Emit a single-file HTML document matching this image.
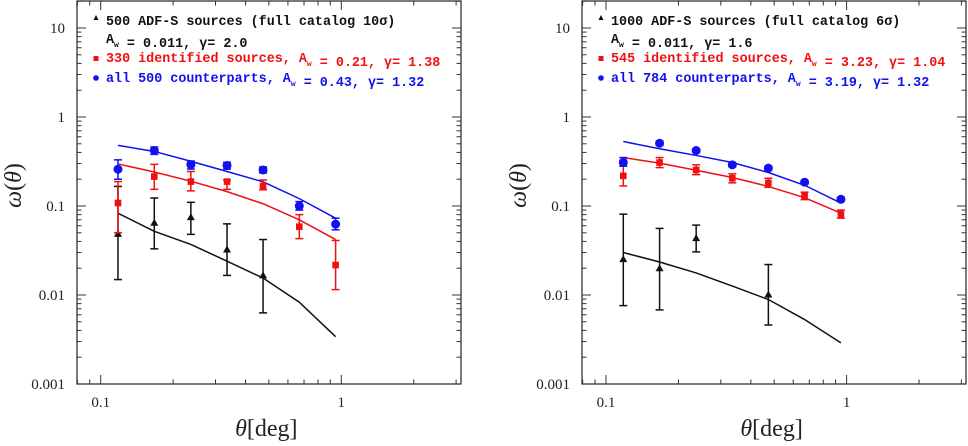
<!DOCTYPE html>
<html><head><meta charset="utf-8"><style>
html,body{margin:0;padding:0;background:#fff;}
svg text{font-family:"Liberation Serif",serif;}
.leg{font-family:"Liberation Mono",monospace;font-size:13.4px;font-weight:bold;}
</style></head><body>
<svg id="chart" width="968" height="441" viewBox="0 0 968 441" xmlns="http://www.w3.org/2000/svg"></svg>
<script>
// ---- data ----
const thetaPts = [0.118, 0.167, 0.237, 0.335, 0.473, 0.669, 0.947];
const xTickLabels = ["0.1", "1"];
const yTickLabels = ["0.001", "0.01", "0.1", "1", "10"];
// Left panel
const L_blue = [0.259, 0.42, 0.292, 0.285, 0.254, 0.100, 0.0625];
const L_blueLo = [0.20, 0.38, 0.26, 0.26, 0.235, 0.09, 0.054];
const L_blueHi = [0.33, 0.46, 0.32, 0.31, 0.275, 0.112, 0.073];
const L_blueFit = [0.48, 0.41, 0.318, 0.244, 0.187, 0.121, 0.073];
const L_red = [0.108, 0.214, 0.188, 0.188, 0.168, 0.0585, 0.0217];
const L_redLo = [0.05, 0.154, 0.148, 0.154, 0.152, 0.043, 0.0115];
const L_redHi = [0.188, 0.294, 0.244, 0.196, 0.196, 0.080, 0.041];
const L_redFit = [0.297, 0.241, 0.19, 0.145, 0.106, 0.070, 0.042];
const L_blackX = [0.118, 0.167, 0.237, 0.335, 0.473];
const L_black = [0.048, 0.064, 0.074, 0.032, 0.0164];
const L_blackLo = [0.0149, 0.033, 0.048, 0.0166, 0.0063];
const L_blackHi = [0.166, 0.123, 0.110, 0.063, 0.042];
const L_blackFit = [0.083, 0.052, 0.037, 0.024, 0.0155, 0.0083, 0.0034];
// Right panel
const R_blue = [0.31, 0.507, 0.42, 0.29, 0.266, 0.185, 0.119];
const R_blueLo = [0.28, 0.48, 0.40, 0.275, 0.255, 0.177, 0.113];
const R_blueHi = [0.35, 0.535, 0.44, 0.305, 0.28, 0.193, 0.125];
const R_blueFit = [0.53, 0.44, 0.37, 0.308, 0.238, 0.171, 0.108];
const R_red = [0.218, 0.308, 0.254, 0.205, 0.182, 0.130, 0.081];
const R_redLo = [0.168, 0.27, 0.225, 0.182, 0.162, 0.118, 0.073];
const R_redHi = [0.294, 0.35, 0.29, 0.23, 0.205, 0.143, 0.090];
const R_redFit = [0.35, 0.303, 0.252, 0.209, 0.166, 0.124, 0.083];
const R_blackX = [0.118, 0.167, 0.237, 0.473];
const R_black = [0.025, 0.0197, 0.043, 0.010];
const R_blackLo = [0.0076, 0.0068, 0.0305, 0.0046];
const R_blackHi = [0.081, 0.056, 0.061, 0.022];
const R_blackFit = [0.030, 0.0235, 0.0177, 0.0126, 0.0089, 0.0053, 0.0029];
const L_legend = [["500 ADF-S sources (full catalog 10σ)", "A_w = 0.011, γ= 2.0"], "330 identified sources, A_w = 0.21, γ= 1.38", "all 500 counterparts, A_w = 0.43, γ= 1.32"];
const R_legend = [["1000 ADF-S sources (full catalog 6σ)", "A_w = 0.011, γ= 1.6"], "545 identified sources, A_w = 3.23, γ= 1.04", "all 784 counterparts, A_w = 3.19, γ= 1.32"];

const NS = "http://www.w3.org/2000/svg";
const svg = document.getElementById("chart");
function mk(tag, attrs, parent, text) {
  const e = document.createElementNS(NS, tag);
  for (const k in attrs) e.setAttribute(k, attrs[k]);
  if (text !== undefined) e.textContent = text;
  parent.appendChild(e); return e;
}
const TOP = 1, BOT = 384, DEC = 89;
function yS(v) { return BOT - (Math.log10(v) + 3) * DEC; }

function panel(name, x0, x1, ox, leg, blue, blueLo, blueHi, blueFit, red, redLo, redHi, redFit, bx, black, blackLo, blackHi, blackFit) {
  const XD = 240.6;
  const xS = v => ox + (Math.log10(v) + 1) * XD;
  const g = mk("g", {}, svg);
  
  
  const fr = mk("rect", {x: x0, y: TOP, width: x1 - x0, height: BOT - TOP, fill: "none", stroke: "#333", "stroke-width": 1.3}, g);
  
  
  for (let d = -3; d <= 1; d++) {
    for (let m = 1; m <= 9; m++) {
      const v = m * Math.pow(10, d); const y = yS(v);
      if (y < TOP) continue;
      const len = m === 1 ? 9 : 4.5;
      mk("line", {x1: x0, x2: x0 + len, y1: y, y2: y, stroke: "#333", "stroke-width": 1}, g);
      mk("line", {x1: x1, x2: x1 - len, y1: y, y2: y, stroke: "#333", "stroke-width": 1}, g);
    }
    const t = mk("text", {x: x0 - 12, y: yS(Math.pow(10, d)) + 5, "text-anchor": "end", "font-size": 15, fill: "#222"}, g, yTickLabels[d + 3]);
    
    
  }
  for (let d = -2; d <= 0; d++) {
    for (let m = 1; m <= 9; m++) {
      const v = m * Math.pow(10, d); const x = xS(v);
      if (x < x0 || x > x1) continue;
      const len = m === 1 ? 9 : 4.5;
      mk("line", {x1: x, x2: x, y1: BOT, y2: BOT - len, stroke: "#333", "stroke-width": 1}, g);
      mk("line", {x1: x, x2: x, y1: TOP, y2: TOP + len, stroke: "#333", "stroke-width": 1}, g);
    }
  }
  xTickLabels.forEach((lab, i) => {
    const t = mk("text", {x: xS(Math.pow(10, i - 1)), y: 407, "text-anchor": "middle", "font-size": 15, fill: "#222"}, g, lab);
    
    
  });
  const xt = mk("text", {x: xS(1) - 75, y: 436, "text-anchor": "middle", "font-size": 24, fill: "#222"}, g);
  
  
  mk("tspan", {"font-style": "italic"}, xt, "θ"); mk("tspan", {}, xt, "[deg]");
  const yt = mk("text", {x: 0, y: 0, transform: `translate(${x0 - 56},${yS(0.17)}) rotate(-90)`, "text-anchor": "middle", "font-size": 24, fill: "#222"}, g);
  
  
  mk("tspan", {"font-style": "italic"}, yt, "ω"); mk("tspan", {}, yt, "(");
  mk("tspan", {"font-style": "italic"}, yt, "θ"); mk("tspan", {}, yt, ")");

  function fit(arr, col, nm) {
    const p = mk("polyline", {points: arr.map((v, i) => xS(thetaPts[i]) + "," + yS(v)).join(" "), fill: "none", stroke: col, "stroke-width": 1.5}, g);
    
    
  }
  function errs(xs, vals, lo, hi, col, nm, shape) {
    vals.forEach((v, i) => {
      const x = xS(xs[i]);
      const eg = mk("g", {}, g);
      
      
      mk("line", {x1: x, x2: x, y1: yS(lo[i]), y2: yS(hi[i]), stroke: col, "stroke-width": 1.5}, eg);
      mk("line", {x1: x - 4, x2: x + 4, y1: yS(lo[i]), y2: yS(lo[i]), stroke: col, "stroke-width": 1.5}, eg);
      mk("line", {x1: x - 4, x2: x + 4, y1: yS(hi[i]), y2: yS(hi[i]), stroke: col, "stroke-width": 1.5}, eg);
      const y = yS(v);
      if (shape === "c") mk("circle", {cx: x, cy: y, r: 4.5, fill: col}, eg);
      else if (shape === "s") mk("rect", {x: x - 3.3, y: y - 3.3, width: 6.6, height: 6.6, fill: col}, eg);
      else mk("polygon", {points: `${x},${y - 4.5} ${x - 4},${y + 2.5} ${x + 4},${y + 2.5}`, fill: col}, eg);
    });
  }
  fit(blackFit, "#111", "black-fit-line");
  fit(redFit, "#f01010", "red-fit-line");
  fit(blueFit, "#1010f0", "blue-fit-line");
  errs(bx, black, blackLo, blackHi, "#111", "black", "t");
  errs(thetaPts, red, redLo, redHi, "#f01010", "red", "s");
  errs(thetaPts, blue, blueLo, blueHi, "#1010f0", "blue", "c");

  const lx = x0 + 29;
  function legText(str, y, col, nm) {
    const t = mk("text", {x: lx, y: y, fill: col, class: "leg"}, g);
    
    
    const parts = str.split("A_w");
    parts.forEach((p, i) => {
      if (i > 0) { mk("tspan", {}, t, "A"); mk("tspan", {dy: 4, "font-size": 8}, t, "w"); mk("tspan", {dy: -4}, t, ""); }
      mk("tspan", {}, t, p);
    });
  }
  const ms = x0 + 19;
  mk("polygon", {points: `${ms},${15} ${ms - 2.5},${20} ${ms + 2.5},${20}`, fill: "#111"}, g);
  legText(leg[0][0], 25, "#111", "legend-entry-all-sources");
  legText(leg[0][1], 43, "#111", "legend-entry-all-sources-fit");
  mk("rect", {x: ms - 2.5, y: 56, width: 5, height: 5, fill: "#f01010"}, g);
  legText(leg[1], 62, "#f01010", "legend-entry-identified");
  mk("circle", {cx: ms, cy: 78, r: 2.8, fill: "#1010f0"}, g);
  legText(leg[2], 82, "#1010f0", "legend-entry-counterparts");
}
panel("left-panel", 77, 461, 100.7, L_legend, L_blue, L_blueLo, L_blueHi, L_blueFit, L_red, L_redLo, L_redHi, L_redFit, L_blackX, L_black, L_blackLo, L_blackHi, L_blackFit);
panel("right-panel", 582, 966, 606, R_legend, R_blue, R_blueLo, R_blueHi, R_blueFit, R_red, R_redLo, R_redHi, R_redFit, R_blackX, R_black, R_blackLo, R_blackHi, R_blackFit);
</script>
</body></html>
